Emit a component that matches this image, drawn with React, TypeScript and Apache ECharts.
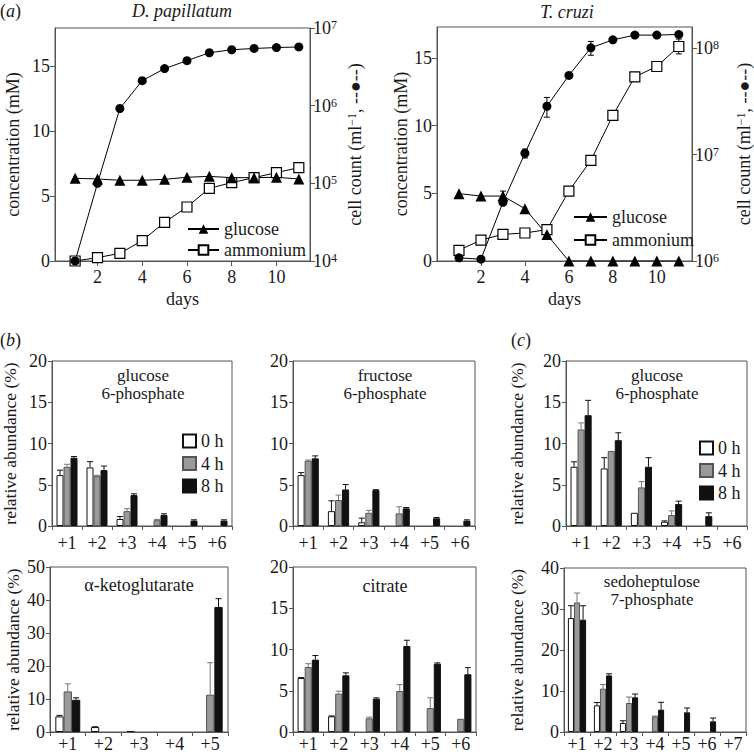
import React, { useEffect, useRef } from 'react';
import * as echarts from 'echarts';

const FONT = 'Liberation Serif, Times New Roman, serif';
const INK = '#1a1a1a';
const AXIS = '#555';

// ---------- (a) growth curves ----------
const days = [1, 2, 3, 4, 5, 6, 7, 8, 9, 10, 11];
const dayTicks = [2, 4, 6, 8, 10];
const concTicks = [0, 5, 10, 15];

const dpCells = [1e4, 1.0e5, 9.2e5, 2.1e6, 3.0e6, 3.8e6, 4.8e6, 5.25e6, 5.45e6, 5.6e6, 5.7e6];
const dpGlucose = [6.37, 6.32, 6.22, 6.22, 6.29, 6.45, 6.52, 6.42, 6.42, 6.45, 6.32];
const dpAmmonium = [0, 0.26, 0.59, 1.57, 2.98, 4.16, 5.6, 6.04, 6.42, 6.81, 7.19];
const dpCellTicks = [1e4, 1e5, 1e6, 1e7];

const tcCells = [1.07e6, 1.04e6, 3.56e6, 1.03e7, 2.85e7, 5.56e7, 1.01e8, 1.2e8, 1.33e8, 1.33e8, 1.35e8];
const tcCellsErr = [0, 0, 0, 1e6, 6e6, 0, 1.5e7, 0, 0, 0, 0];
const tcGlucose = [4.98, 4.8, 4.8, 3.87, 1.95, 0, 0, 0, 0, 0, 0];
const tcGlucoseErr = [0, 0, 0.37, 0, 0, 0, 0, 0, 0, 0, 0];
const tcAmmonium = [0.79, 1.55, 1.97, 2.07, 2.32, 5.17, 7.44, 10.76, 13.62, 14.38, 15.86];
const tcAmmoniumErr = [0, 0, 0, 0, 0, 0.3, 0, 0, 0, 0, 0.55];
const tcCellTicks = [1e6, 1e7, 1e8];

// ---------- (b), (c) isotopologue bars ----------
const iso5 = ['+1', '+2', '+3', '+4', '+5'];
const iso6 = ['+1', '+2', '+3', '+4', '+5', '+6'];
const iso7 = ['+1', '+2', '+3', '+4', '+5', '+6', '+7'];
const timeNames = ['0 h', '4 h', '8 h'];

const g6pDp0 = [6.17, 7.1, 0.85, 0, 0, 0];
const g6pDp0Err = [0.6, 0.7, 0.3, 0, 0, 0];
const g6pDp4 = [7.18, 6.05, 1.8, 0.7, 0, 0];
const g6pDp4Err = [0.3, 0.1, 0.3, 0.1, 0, 0];
const g6pDp8 = [8.27, 6.77, 3.75, 1.33, 0.65, 0.65];
const g6pDp8Err = [0.15, 0.5, 0.15, 0.15, 0.1, 0.1];

const f6pDp0 = [6.17, 1.8, 0.45, 0, 0, 0];
const f6pDp0Err = [0.3, 1.25, 0.5, 0, 0, 0];
const f6pDp4 = [7.9, 3.15, 1.6, 1.53, 0, 0];
const f6pDp4Err = [0.1, 0.6, 0.3, 0.8, 0, 0];
const f6pDp8 = [8.2, 4.43, 4.35, 2.14, 0.93, 0.65];
const f6pDp8Err = [0.3, 0.6, 0.05, 0.1, 0.1, 0.1];

const akgDp0 = [4.73, 1.5, 0.3, 0, 0];
const akgDp0Err = [0.3, 0.1, 0, 0, 0];
const akgDp4 = [12.3, 0, 0, 0, 11.3];
const akgDp4Err = [2.3, 0, 0, 0, 9.7];
const akgDp8 = [9.76, 0, 0, 0, 37.9];
const akgDp8Err = [0.6, 0, 0, 0, 2.5];

const citDp0 = [6.55, 1.9, 0, 0, 0, 0];
const citDp0Err = [0.05, 0.05, 0, 0, 0, 0];
const citDp4 = [7.88, 4.65, 1.66, 4.97, 2.9, 1.6];
const citDp4Err = [0.4, 0.3, 0.15, 0.77, 1.25, 0];
const citDp8 = [8.77, 6.87, 4.04, 10.42, 8.28, 7.0];
const citDp8Err = [0.5, 0.3, 0.1, 0.7, 0.1, 0.8];

const g6pTc0 = [7.18, 6.98, 1.6, 0.52, 0, 0];
const g6pTc0Err = [0.6, 1.3, 0, 0.1, 0, 0];
const g6pTc4 = [11.7, 9.1, 4.68, 1.33, 0, 0];
const g6pTc4Err = [0.8, 0, 0.7, 0.5, 0, 0];
const g6pTc8 = [13.43, 10.4, 7.18, 2.66, 1.2, 0];
const g6pTc8Err = [1.8, 0.9, 1.1, 0.35, 0.4, 0];

const s7pTc0 = [27.8, 6.5, 2.2, 0, 0, 0, 0];
const s7pTc0Err = [3.0, 0.7, 0.55, 0, 0, 0, 0];
const s7pTc4 = [31.6, 10.57, 7.07, 3.8, 0, 0, 0];
const s7pTc4Err = [2.3, 1.0, 1.46, 0.1, 0, 0, 0];
const s7pTc8 = [27.4, 13.8, 8.46, 5.45, 4.8, 2.6, 0];
const s7pTc8Err = [3.4, 0.4, 0.8, 1.8, 1.05, 0.8, 0];

const barFills = ['#ffffff', '#9a9a9a', '#111111'];
const barEdges = ['#111111', '#555555', '#111111'];
const errColors = ['#111111', '#777777', '#111111'];

const txtStyle = (size = 18) => ({ fontSize: size, fontFamily: FONT, color: INK });
const supRich = { sup: { fontSize: 12, fontFamily: FONT, color: INK, verticalAlign: 'top', lineHeight: 12 } };

function topX(grid: number, min: number, max: number) {
  return {
    type: 'value', gridIndex: grid, min, max,
    axisLine: { show: true, onZero: false, lineStyle: { color: AXIS } },
    axisTick: { show: true, length: 5, customValues: dayTicks, lineStyle: { color: AXIS } },
    axisLabel: { customValues: dayTicks, margin: 7, ...txtStyle() },
    splitLine: { show: false },
    name: 'days', nameLocation: 'middle', nameGap: 29, nameTextStyle: txtStyle(),
  };
}
function concY(grid: number, max: number, gap: number) {
  return {
    type: 'value', gridIndex: grid, min: 0, max, position: 'left',
    axisLine: { show: true, onZero: false, lineStyle: { color: AXIS } },
    axisTick: { show: true, length: 5, customValues: concTicks, lineStyle: { color: AXIS } },
    axisLabel: { customValues: concTicks, margin: 5, ...txtStyle() },
    splitLine: { show: false },
    name: 'concentration (mM)', nameLocation: 'middle', nameGap: gap, nameRotate: 90, nameTextStyle: txtStyle(),
  };
}
function cellY(grid: number, min: number, max: number, ticks: number[], gap: number) {
  return {
    type: 'log', logBase: 10, gridIndex: grid, min, max, position: 'right',
    axisLine: { show: true, onZero: false, lineStyle: { color: AXIS } },
    axisTick: { show: true, length: 5, customValues: ticks, lineStyle: { color: AXIS } },
    axisLabel: {
      customValues: ticks, margin: 3, ...txtStyle(),
      formatter: (v: number) => `10{sup|${Math.round(Math.log10(v))}}`,
      rich: supRich,
    },
    splitLine: { show: false },
    name: 'cell count (ml{sup|\u22121}, --\u25CF--)', nameLocation: 'middle', nameGap: gap, nameRotate: 90,
    nameTextStyle: { ...txtStyle(), rich: supRich },
  };
}
function barX(grid: number, cats: string[], margin: number) {
  return {
    type: 'category', gridIndex: grid, data: cats,
    axisLine: { show: true, onZero: false, lineStyle: { color: AXIS } },
    axisTick: { show: true, length: 4, lineStyle: { color: AXIS } },
    axisLabel: { interval: 0, margin, ...txtStyle() },
    splitLine: { show: false },
  };
}
function barY(grid: number, max: number, interval: number, name: string, gap: number) {
  return {
    type: 'value', gridIndex: grid, min: 0, max, interval,
    axisLine: { show: true, onZero: false, lineStyle: { color: AXIS } },
    axisTick: { show: true, length: 4, lineStyle: { color: AXIS } },
    axisLabel: { margin: 5, ...txtStyle() },
    splitLine: { show: false },
    name, nameLocation: 'middle', nameGap: gap, nameRotate: 90, nameTextStyle: txtStyle(17.5),
  };
}

function lineSeries(name: string, xi: number, yi: number, ys: number[], symbol: string, size: number, fill: string) {
  return {
    name, type: 'line', xAxisIndex: xi, yAxisIndex: yi, z: 3,
    data: days.map((d, i) => [d, ys[i]]),
    symbol, symbolSize: size, showSymbol: true,
    itemStyle: { color: fill, borderColor: '#000', borderWidth: fill === '#fff' ? 1.2 : 0, opacity: 1 },
    lineStyle: { color: '#000', width: 1 },
  };
}
function lineErr(xi: number, yi: number, ys: number[], errs: number[]) {
  return {
    type: 'custom', xAxisIndex: xi, yAxisIndex: yi, z: 2, silent: true,
    data: days.map((d, i) => [d, ys[i], errs[i]]),
    renderItem: (_p: any, api: any) => {
      const e = api.value(2);
      if (!e) return null;
      const x = api.value(0), v = api.value(1);
      const hi = api.coord([x, v + e]);
      const lo = api.coord([x, v - e]);
      const s = { stroke: '#000', lineWidth: 1 };
      return {
        type: 'group', children: [
          { type: 'line', shape: { x1: hi[0], y1: hi[1], x2: lo[0], y2: lo[1] }, style: s },
          { type: 'line', shape: { x1: hi[0] - 3, y1: hi[1], x2: hi[0] + 3, y2: hi[1] }, style: s },
          { type: 'line', shape: { x1: lo[0] - 3, y1: lo[1], x2: lo[0] + 3, y2: lo[1] }, style: s },
        ],
      };
    },
  };
}
function barSeries(xi: number, vals: number[][], errs: number[][]) {
  const out: any[] = [];
  vals.forEach((v, k) => {
    out.push({
      name: timeNames[k], type: 'bar', xAxisIndex: xi, yAxisIndex: xi + 2, z: 2,
      data: v.map((x) => (x === 0 ? null : x)), barGap: '0%', barCategoryGap: '30%',
      itemStyle: { color: barFills[k], borderColor: barEdges[k], borderWidth: 1 },
    });
  });
  errs.forEach((e, k) => {
    out.push({
      type: 'custom', xAxisIndex: xi, yAxisIndex: xi + 2, z: 4, silent: true,
      data: vals[k].map((v, i) => [i, v, e[i]]),
      renderItem: (_p: any, api: any) => {
        const er = api.value(2);
        if (!er) return null;
        const c = api.value(0), v = api.value(1);
        const base = api.coord([c, v]);
        const top = api.coord([c, v + er]);
        const bw = (api.size([1, 0])[0] * 0.7) / 3;
        const x = base[0] + (k - 1) * bw;
        const s = { stroke: errColors[k], lineWidth: 1 };
        return {
          type: 'group', children: [
            { type: 'line', shape: { x1: x, y1: base[1], x2: x, y2: top[1] }, style: s },
            { type: 'line', shape: { x1: x - 3, y1: top[1], x2: x + 3, y2: top[1] }, style: s },
          ],
        };
      },
    });
  });
  return out;
}

function label(x: number, y: number, text: string, align = 'center', italic = false, rich?: any, size = 18) {
  return {
    type: 'text', x, y, silent: true,
    style: {
      text, fontSize: size, fontFamily: FONT, fill: INK, fontStyle: italic ? 'italic' : 'normal',
      align, textAlign: align, verticalAlign: 'middle', textVerticalAlign: 'middle', rich,
    },
  };
}
const italRich = { i: { fontStyle: 'italic', fontSize: 18, fontFamily: FONT, fill: INK, color: INK } };

export default function App() {
  const ref = useRef<HTMLDivElement>(null);
  useEffect(() => {
    if (!ref.current) return;
    const chart = echarts.init(ref.current, undefined, { renderer: 'svg' });
    const frame = { show: true, borderColor: AXIS, borderWidth: 1, backgroundColor: 'transparent' };
    const option: any = {
      animation: false,
      backgroundColor: '#fff',
      textStyle: { fontFamily: FONT },
      grid: [
        { left: 55, top: 28, width: 255, height: 233, ...frame },
        { left: 437, top: 27, width: 260, height: 234, ...frame },
        { left: 50, top: 361, width: 182, height: 165, ...frame },
        { left: 293, top: 361, width: 182, height: 165, ...frame },
        { left: 566, top: 361, width: 181, height: 165, ...frame },
        { left: 50, top: 567, width: 178, height: 165, ...frame },
        { left: 293, top: 567, width: 183, height: 165, ...frame },
        { left: 564, top: 568, width: 182, height: 164, ...frame },
      ],
      xAxis: [
        topX(0, 0.1, 11.5),
        topX(1, 0, 11.6),
        barX(2, iso6, 8),
        barX(3, iso6, 8),
        barX(4, iso6, 8),
        barX(5, iso5, 3),
        barX(6, iso6, 3),
        barX(7, iso7, 3),
      ],
      yAxis: [
        concY(0, 17.95, 33),
        cellY(0, 1e4, 1e7, dpCellTicks, 36),
        concY(1, 17.3, 26),
        cellY(1, 1e6, Math.pow(10, 8.2), tcCellTicks, 43),
        barY(2, 20, 5, 'relative abundance (%)', 33),
        barY(3, 20, 5, '', 30),
        barY(4, 20, 5, 'relative abundance (%)', 40),
        barY(5, 50, 10, 'relative abundance (%)', 28),
        barY(6, 20, 5, '', 30),
        barY(7, 40, 10, 'relative abundance (%)', 38),
      ],
      legend: [
        {
          data: ['glucose', 'ammonium'], left: 182, top: 215, orient: 'vertical',
          itemWidth: 31, itemHeight: 12, itemGap: 3, selectedMode: false, textStyle: txtStyle(),
        },
        {
          data: ['glucose', 'ammonium'], left: 568, top: 203, orient: 'vertical',
          itemWidth: 33, itemHeight: 12, itemGap: 5, selectedMode: false, textStyle: txtStyle(),
        },
        {
          data: timeNames, left: 177, top: 427, orient: 'vertical', icon: 'rect',
          itemWidth: 13, itemHeight: 13, itemGap: 4.5, selectedMode: false, textStyle: txtStyle(),
        },
        {
          data: timeNames, left: 694, top: 434, orient: 'vertical', icon: 'rect',
          itemWidth: 13, itemHeight: 13, itemGap: 4.5, selectedMode: false, textStyle: txtStyle(),
        },
      ],
      series: [
        lineSeries('ammonium', 0, 0, dpAmmonium, 'rect', 10, '#fff'),
        lineSeries('glucose', 0, 0, dpGlucose, 'triangle', 11, '#000'),
        lineSeries('cell count', 0, 1, dpCells, 'circle', 9, '#000'),
        lineErr(1, 2, tcAmmonium, tcAmmoniumErr),
        lineErr(1, 2, tcGlucose, tcGlucoseErr),
        lineErr(1, 3, tcCells, tcCellsErr),
        lineSeries('ammonium', 1, 2, tcAmmonium, 'rect', 10, '#fff'),
        lineSeries('glucose', 1, 2, tcGlucose, 'triangle', 11, '#000'),
        lineSeries('cell count', 1, 3, tcCells, 'circle', 9, '#000'),
        ...barSeries(2, [g6pDp0, g6pDp4, g6pDp8], [g6pDp0Err, g6pDp4Err, g6pDp8Err]),
        ...barSeries(3, [f6pDp0, f6pDp4, f6pDp8], [f6pDp0Err, f6pDp4Err, f6pDp8Err]),
        ...barSeries(4, [g6pTc0, g6pTc4, g6pTc8], [g6pTc0Err, g6pTc4Err, g6pTc8Err]),
        ...barSeries(5, [akgDp0, akgDp4, akgDp8], [akgDp0Err, akgDp4Err, akgDp8Err]),
        ...barSeries(6, [citDp0, citDp4, citDp8], [citDp0Err, citDp4Err, citDp8Err]),
        ...barSeries(7, [s7pTc0, s7pTc4, s7pTc8], [s7pTc0Err, s7pTc4Err, s7pTc8Err]),
      ],
      graphic: [
        label(0, 11, '({i|a})', 'left', false, italRich),
        label(0, 340, '({i|b})', 'left', false, italRich),
        label(511, 340, '({i|c})', 'left', false, italRich),
        label(182, 11, 'D. papillatum', 'center', true),
        label(567, 12, 'T. cruzi', 'center', true),
        label(143, 375, 'glucose', 'center', false, undefined, 17),
        label(143, 393, '6-phosphate', 'center', false, undefined, 17),
        label(385, 375, 'fructose', 'center', false, undefined, 17),
        label(385, 393, '6-phosphate', 'center', false, undefined, 17),
        label(657, 375, 'glucose', 'center', false, undefined, 17),
        label(657, 393, '6-phosphate', 'center', false, undefined, 17),
        label(139, 585, '\u03B1-ketoglutarate'),
        label(385, 586, 'citrate'),
        label(652, 581, 'sedoheptulose', 'center', false, undefined, 17),
        label(652, 599, '7-phosphate', 'center', false, undefined, 17),
      ],
    };
    chart.setOption(option);
    return () => chart.dispose();
  }, []);
  return (
    <div
      ref={ref}
      style={{ position: 'absolute', left: 0, top: 0, width: 754, height: 756, background: '#fff' }}
    />
  );
}
